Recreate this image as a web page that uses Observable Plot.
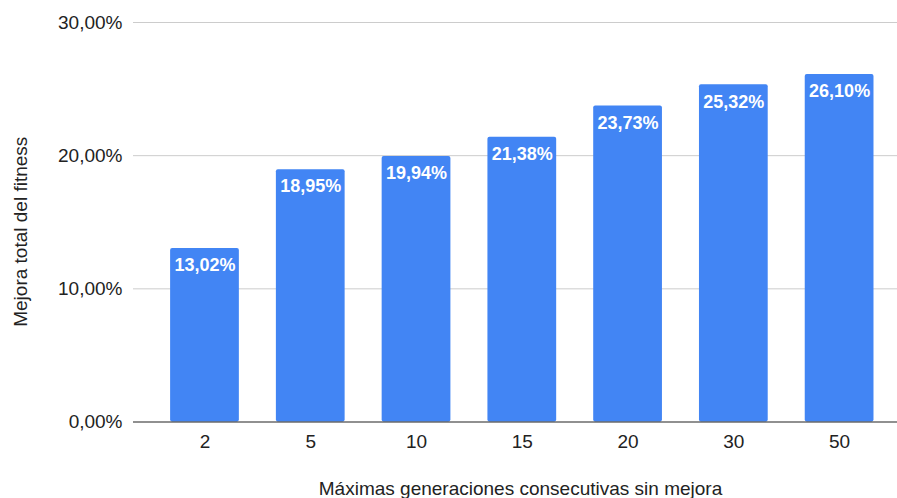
<!DOCTYPE html>
<html>
<head>
<meta charset="utf-8">
<script src="https://cdn.jsdelivr.net/npm/d3@7"></script>
<script src="https://cdn.jsdelivr.net/npm/@observablehq/plot@0.6"></script>
<style>
  html, body { margin: 0; padding: 0; background: #fff; }
  #chart svg { display: block; }
</style>
</head>
<body>
<div id="chart"></div>
<script>
// Máximas generaciones consecutivas sin mejora (x) vs. mejora total del fitness (y)
const generaciones = ["2", "5", "10", "15", "20", "30", "50"];
const mejora = [0.1302, 0.1895, 0.1994, 0.2138, 0.2373, 0.2532, 0.2610];
const yTicks = [0, 0.10, 0.20, 0.30];

const data = generaciones.map((g, i) => ({g, v: mejora[i]}));
const pct = v => (v * 100).toFixed(2).replace(".", ",") + "%";

const font = "'Liberation Sans', Arial, sans-serif";
const fs = 19;

const chart = Plot.plot({
  width: 897,
  height: 498,
  marginLeft: 133,
  marginRight: 0,
  marginTop: 22,
  marginBottom: 76.5,
  style: {fontFamily: font, fontSize: fs + "px", color: "#222", background: "#fff"},
  x: {type: "band", domain: generaciones, range: [151.6, 892], paddingInner: 0.35, paddingOuter: 0.175, round: false},
  y: {domain: [0, 0.30]},
  marks: [
    Plot.ruleY(yTicks.slice(1), {stroke: "#cccccc", strokeWidth: 1}),
    Plot.barY(data, {x: "g", y: "v", fill: "#4285F4", rx: 2}),
    Plot.ruleY([0], {stroke: "#222222", strokeWidth: 1.2}),
    Plot.axisY({ticks: yTicks, tickFormat: pct, tickSize: 0, tickPadding: 11, label: null, fontSize: fs, fill: "#222"}),
    Plot.axisX({tickSize: 0, tickPadding: 12, label: null, fontSize: fs, fill: "#222"}),
    Plot.text(data, {x: "g", y: "v", text: d => pct(d.v), dy: 17, fill: "#fff", fontWeight: "bold", fontSize: 18, lineAnchor: "middle"}),
    Plot.text(["Mejora total del fitness"], {frameAnchor: "left", textAnchor: "middle", rotate: -90, dx: -113, dy: 9.5, fontSize: fs, fill: "#222", lineAnchor: "middle"}),
    Plot.text(["Máximas generaciones consecutivas sin mejora"], {frameAnchor: "bottom", textAnchor: "middle", dx: 5, dy: 67, fontSize: fs, fill: "#222", lineAnchor: "middle"})
  ]
});

document.getElementById("chart").appendChild(chart);
</script>
</body>
</html>
